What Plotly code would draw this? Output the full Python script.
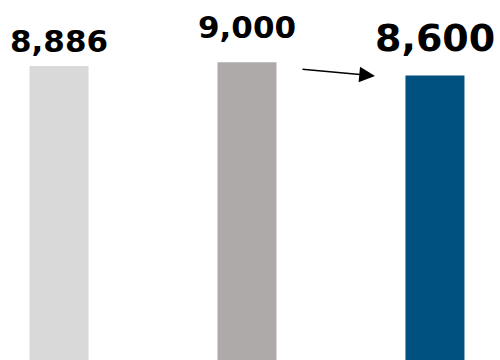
import plotly.graph_objects as go

categories = ["A", "B", "C"]
values = [8886, 9000, 8600]
labels = ["8,886", "9,000", "8,600"]
colors = ["#D9D9D9", "#AEAAAA", "#00517F"]
label_sizes = [31, 31, 38]
label_shifts = [25, 35, 37]

xs = list(range(len(categories)))
fig = go.Figure(go.Bar(x=xs, y=values, marker_color=colors, width=0.314,
                       marker_line_width=0, hoverinfo="skip"))

for i, (v, t, s, sh) in enumerate(zip(values, labels, label_sizes, label_shifts)):
    fig.add_annotation(x=xs[i], y=v, text=f"<b>{t}</b>", showarrow=False,
                       yanchor="middle", xanchor="center", yshift=sh,
                       font=dict(family="DejaVu Sans", size=s, color="#000000"))

# arrow from second bar toward third bar
fig.add_annotation(x=1.681, y=8583, ax=1.287, ay=8795, axref="x", ayref="y",
                   xref="x", yref="y", text="", showarrow=True,
                   arrowhead=2, arrowsize=2.1, arrowwidth=1.5, arrowcolor="#000000")

fig.update_layout(width=500, height=360, margin=dict(l=0, r=0, t=0, b=0),
                  paper_bgcolor="white", plot_bgcolor="white", showlegend=False,
                  xaxis=dict(range=[-0.314, 2.346], visible=False, fixedrange=True),
                  yaxis=dict(range=[0, 10880], visible=False, fixedrange=True))
fig.write_html("out.html", config={"displayModeBar": False})
